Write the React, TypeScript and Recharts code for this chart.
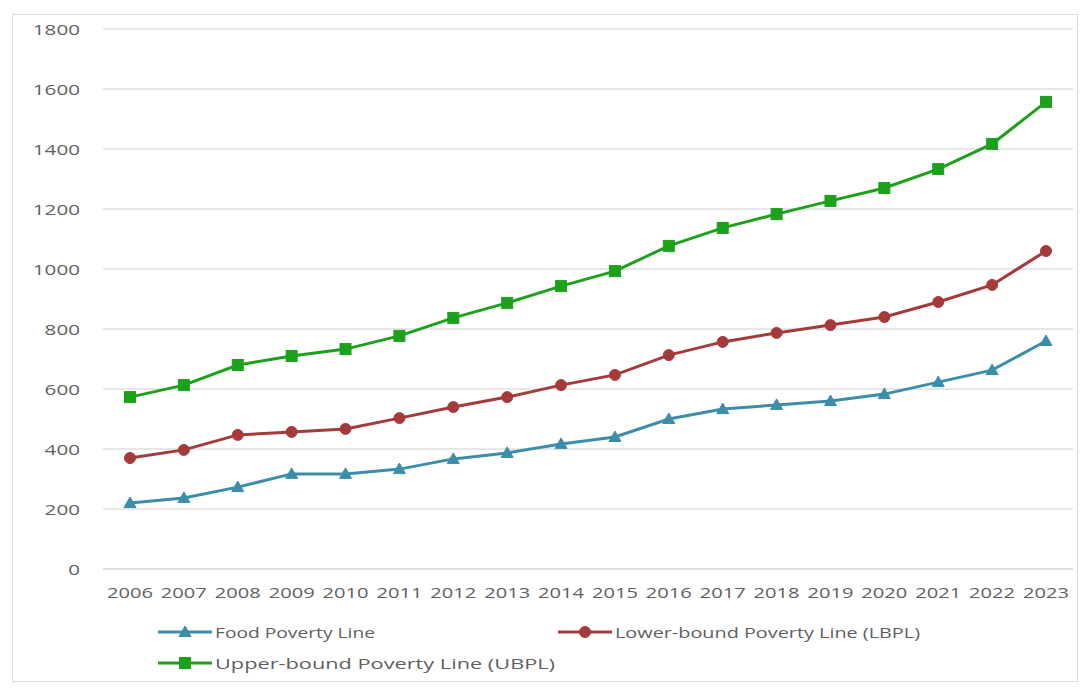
import React from "react";
import { LineChart, Line, XAxis, YAxis, CartesianGrid, Legend } from "recharts";

const years = ["2006","2007","2008","2009","2010","2011","2012","2013","2014","2015","2016","2017","2018","2019","2020","2021","2022","2023"];
const foodLine = [220,237,273,317,317,333,367,387,417,440,500,533,547,560,583,623,663,760];
const lowerLine = [370,397,447,457,467,503,540,573,613,647,713,757,787,813,840,890,947,1060];
const upperLine = [573,613,680,710,733,777,837,887,943,993,1077,1137,1183,1227,1270,1333,1417,1557];
const yTicks = [0,200,400,600,800,1000,1200,1400,1600,1800];

const seriesNames = ["Food Poverty Line", "Lower-bound Poverty Line (LBPL)", "Upper-bound Poverty Line (UBPL)"];
const colors = ["#3C8DAA", "#A53A3B", "#1DA11D"];

const data = years.map((y, i) => ({
  year: y,
  food: foodLine[i],
  lower: lowerLine[i],
  upper: upperLine[i],
}));

const FONT = "'Open Sans', 'DejaVu Sans', sans-serif";
const TICK_COLOR = "#5f5f5f";

const Triangle = ({ cx, cy, fill }: any) => (
  <path d={`M${cx},${cy - 6} L${cx + 6},${cy + 4.5} L${cx - 6},${cy + 4.5} Z`} fill={fill} stroke={fill} strokeWidth={1} />
);
const Circle = ({ cx, cy, fill }: any) => <circle cx={cx} cy={cy} r={5.5} fill={fill} stroke={fill} />;
const Square = ({ cx, cy, fill }: any) => (
  <rect x={cx - 5.5} y={cy - 5.5} width={11} height={11} fill={fill} stroke={fill} />
);

const YTick = ({ x, y, payload }: any) => {
  const s = String(payload.value);
  return (
    <text x={x} y={y} textAnchor="end" dominantBaseline="central" fill={TICK_COLOR}
      fontFamily={FONT} fontSize={14} textLength={s.length * 11.8} lengthAdjust="spacingAndGlyphs">
      {s}
    </text>
  );
};

const XTick = ({ x, payload }: any) => {
  const s = String(payload.value);
  return (
    <text x={x} y={592} textAnchor="middle" dominantBaseline="central" fill={TICK_COLOR}
      fontFamily={FONT} fontSize={14} textLength={46} lengthAdjust="spacingAndGlyphs">
      {s}
    </text>
  );
};

const legendItems = [
  { name: seriesNames[0], color: colors[0], shape: "tri", x: 158, y: 632, len: 160 },
  { name: seriesNames[1], color: colors[1], shape: "circ", x: 558, y: 632, len: 305 },
  { name: seriesNames[2], color: colors[2], shape: "sq", x: 158, y: 663, len: 340 },
];

const LegendContent = () => (
  <svg width={1086} height={688} style={{ display: "block" }}>
    {legendItems.map((it) => {
      const mx = it.x + 27;
      return (
        <g key={it.name}>
          <line x1={it.x} x2={it.x + 54} y1={it.y} y2={it.y} stroke={it.color} strokeWidth={3} />
          {it.shape === "tri" && <Triangle cx={mx} cy={it.y} fill={it.color} />}
          {it.shape === "circ" && <Circle cx={mx} cy={it.y} fill={it.color} />}
          {it.shape === "sq" && <Square cx={mx} cy={it.y} fill={it.color} />}
          <text x={it.x + 57} y={it.y} dominantBaseline="central" fill={TICK_COLOR}
            fontFamily={FONT} fontSize={15} textLength={it.len} lengthAdjust="spacingAndGlyphs">
            {it.name}
          </text>
        </g>
      );
    })}
  </svg>
);

export default function App() {
  return (
    <div style={{ position: "absolute", left: 0, top: 0, width: 1086, height: 688, background: "#fff", fontFamily: FONT }}>
      <div style={{ position: "absolute", left: 12, top: 14, width: 1066, height: 668, border: "1px solid #dcdcdc", boxSizing: "border-box" }} />
      <LineChart width={1086} height={688} data={data} margin={{ top: 29, right: 13, bottom: 89, left: 0 }}>
        <CartesianGrid vertical={false} stroke="#dedede" strokeWidth={1.5} />
        <XAxis dataKey="year" height={30} axisLine={{ stroke: "#dedede", strokeWidth: 1.5 }} tickLine={false}
          tick={<XTick />} interval={0} padding={{ left: 27, right: 27 }} />
        <YAxis width={103} domain={[0, 1800]} ticks={yTicks} axisLine={false} tickLine={false}
          tickMargin={17} tick={<YTick />} interval={0} />
        <Legend layout="horizontal" verticalAlign="middle" align="center" content={<LegendContent />}
          wrapperStyle={{ position: "absolute", left: 0, top: 0, width: 1086, height: 688, pointerEvents: "none" }} />
        <Line dataKey="food" name={seriesNames[0]} stroke={colors[0]} strokeWidth={3} isAnimationActive={false}
          dot={<Triangle fill={colors[0]} />} activeDot={false} />
        <Line dataKey="lower" name={seriesNames[1]} stroke={colors[1]} strokeWidth={3} isAnimationActive={false}
          dot={<Circle fill={colors[1]} />} activeDot={false} />
        <Line dataKey="upper" name={seriesNames[2]} stroke={colors[2]} strokeWidth={3} isAnimationActive={false}
          dot={<Square fill={colors[2]} />} activeDot={false} />
      </LineChart>
    </div>
  );
}
